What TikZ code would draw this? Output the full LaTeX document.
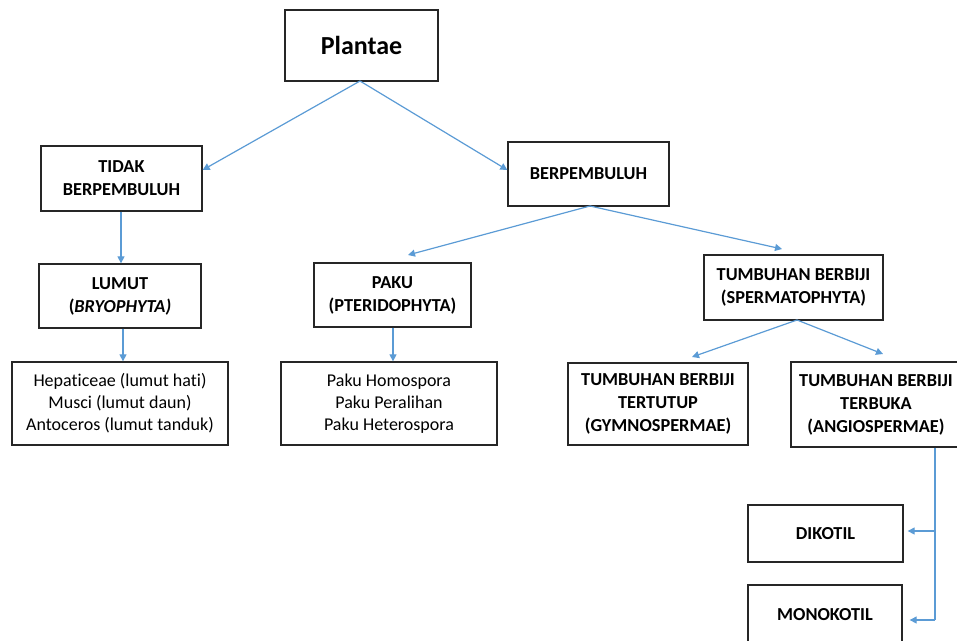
\documentclass[tikz,border=0pt]{standalone}
\usepackage{fontspec}
\setmainfont[Ligatures=NoCommon]{Carlito}
\usetikzlibrary{arrows.meta}
\tikzset{
  box/.style={draw=black!85, line width=1.3pt, align=center, inner sep=0pt, font=\fontsize{18.3}{23}\selectfont\bfseries},
  listbox/.style={draw=black!85, line width=1.3pt, align=center, inner sep=0pt, font=\fontsize{18}{22}\selectfont},
  conn/.style={draw={rgb,255:red,91;green,155;blue,213}, line width=1.2pt, -{Triangle[length=7pt,width=7pt]}},
  link/.style={draw={rgb,255:red,91;green,155;blue,213}, line width=1.2pt}
}
\begin{document}
\begin{tikzpicture}[x=1pt,y=-1pt]
\useasboundingbox (0,0) rectangle (957,640);
\clip (0,0) rectangle (957,640);
\node[box, minimum width=153pt, minimum height=71pt, font=\fontsize{26}{30}\selectfont\bfseries] (plantae) at (361.5,45.5) {Plantae};
\node[box, minimum width=161pt, minimum height=65pt] (tidak) at (121.5,178.5) {TIDAK\\BERPEMBULUH};
\node[box, minimum width=161pt, minimum height=64pt] (ber) at (588.5,174) {BERPEMBULUH};
\node[box, minimum width=162pt, minimum height=64pt] (lumut) at (120,296) {LUMUT\\(\textit{BRYOPHYTA)}};
\node[listbox, minimum width=216pt, minimum height=83pt] (list1) at (120,403.5) {Hepaticeae (lumut hati)\\Musci (lumut daun)\\Antoceros (lumut tanduk)};
\node[box, minimum width=157pt, minimum height=64pt] (paku) at (392.5,295) {PAKU\\(PTERIDOPHYTA)};
\node[listbox, minimum width=216pt, minimum height=83pt] (list2) at (389,403.5) {Paku Homospora\\Paku Peralihan\\Paku Heterospora};
\node[box, minimum width=179pt, minimum height=65pt] (sperma) at (793.5,287.5) {TUMBUHAN BERBIJI\\(SPERMATOPHYTA)};
\node[box, minimum width=180pt, minimum height=82pt] (tutup) at (658,404) {TUMBUHAN BERBIJI\\TERTUTUP\\(GYMNOSPERMAE)};
\node[box, minimum width=170pt, minimum height=85pt] (buka) at (876,404.5) {TUMBUHAN BERBIJI\\TERBUKA\\(ANGIOSPERMAE)};
\node[box, minimum width=155pt, minimum height=57pt] (diko) at (825.5,533.5) {DIKOTIL};
\node[box, minimum width=154pt, minimum height=60pt] (mono) at (825,615) {MONOKOTIL};
% connectors
\coordinate (pb) at (360,81);
\draw[conn] (pb) -- (tidak.east |- 0,170);
\draw[conn] (pb) -- (ber.west |- 0,170);
\draw[conn] (tidak.south -| 121,0) -- (lumut.north -| 121,0);
\draw[conn] (lumut.south -| 123,0) -- (list1.north -| 123,0);
\draw[conn] (paku.south -| 393,0) -- (list2.north -| 393,0);
\coordinate (bb) at (590,206);
\coordinate (bl) at (408,255);
\coordinate (br) at (782,249);
\draw[conn] (bb) -- (bl);
\draw[conn] (bb) -- (br);
\coordinate (sb) at (797,320);
\coordinate (sl) at (692,357);
\coordinate (sr) at (883,354);
\draw[conn] (sb) -- (sl);
\draw[conn] (sb) -- (sr);
\coordinate (vd) at (935,531);
\coordinate (vm) at (935,620);
\draw[link] (buka.south -| vm) -- (vm);
\draw[conn] (vd) -- ([xshift=4pt]diko.east |- vd);
\draw[conn] (vm) -- ([xshift=7pt]mono.east |- vm);
\end{tikzpicture}
\end{document}
